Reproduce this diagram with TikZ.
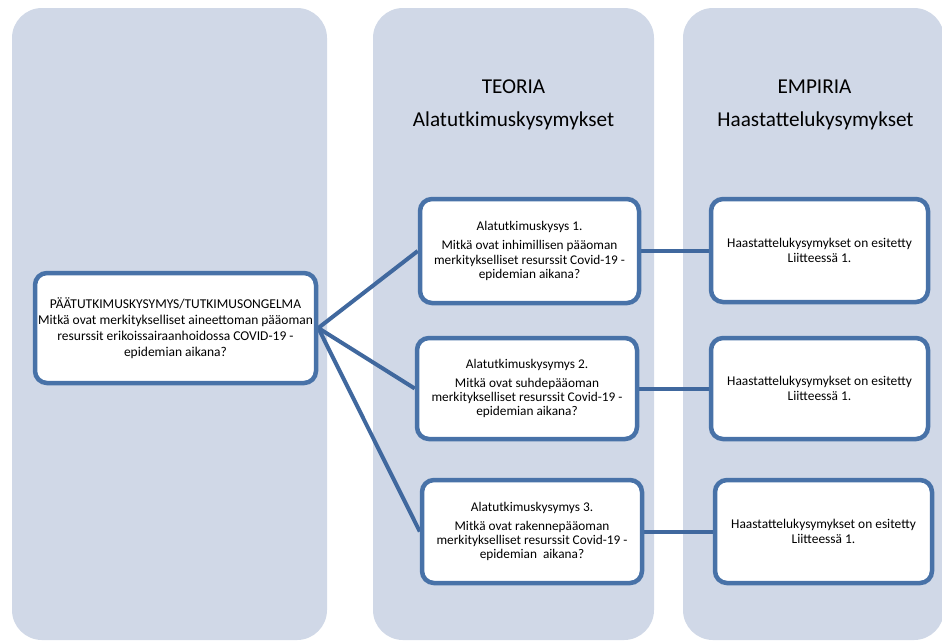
\documentclass[tikz,border=0pt]{standalone}
\usepackage{fontspec}
\setmainfont{Carlito}
\definecolor{panel}{RGB}{208,216,231}
\definecolor{frame}{RGB}{72,114,168}
\definecolor{link}{RGB}{64,104,158}
\pgfdeclarelayer{back}
\pgfdeclarelayer{mid}
\pgfsetlayers{back,mid,main}
\begin{document}
\begin{tikzpicture}[x=1pt,y=-1pt,
  panelbg/.style={fill=panel, rounded corners=30pt},
  heading/.style={anchor=base, font=\fontsize{21.2}{25}\selectfont},
  qbox/.style={draw=frame, line width=4.5pt, fill=white, rounded corners=12pt,
    align=center, inner sep=0pt, font=\fontsize{13.4}{15.5}\selectfont},
  mainbox/.style={qbox, font=\fontsize{13.5}{15.8}\selectfont},
  subbox/.style={qbox, font=\fontsize{13.3}{14.2}\selectfont},
  conn/.style={draw=link, line width=4pt}
]
\useasboundingbox (0,0) rectangle (942,641);

% column panels
\begin{pgfonlayer}{back}
  \fill[panelbg] (12,8) rectangle (327,640);
  \fill[panelbg] (373,8) rectangle (654,640);
  \fill[panelbg] (683,8) rectangle (944,640);
\end{pgfonlayer}

% column headings
\node[heading] (h1) at (513.5,93) {TEORIA};
\node[heading] (h2) at (513.5,126) {Alatutkimuskysymykset};
\node[heading] (h3) at (814.5,93) {EMPIRIA};
\node[heading] (h4) at (815.5,126) {Haastattelukysymykset};

% main research question
\node[mainbox, minimum width=281pt, minimum height=110pt] (main) at (175.5,328)
  {PÄÄTUTKIMUSKYSYMYS/TUTKIMUSONGELMA\\
   Mitkä ovat merkitykselliset aineettoman pääoman\\
   resurssit erikoissairaanhoidossa COVID-19 -\\
   epidemian aikana?};

% sub-questions (theory)
\node[subbox, minimum width=219pt, minimum height=104pt] (t1) at (529.5,251)
  {Alatutkimuskysys 1.\\[5pt]
   Mitkä ovat inhimillisen pääoman\\
   merkitykselliset resurssit Covid-19 -\\
   epidemian aikana?};
\node[subbox, minimum width=220pt, minimum height=101pt] (t2) at (527,388.5)
  {Alatutkimuskysymys 2.\\[5pt]
   Mitkä ovat suhdepääoman\\
   merkitykselliset resurssit Covid-19 -\\
   epidemian aikana?};
\node[subbox, minimum width=220pt, minimum height=103pt] (t3) at (532,531.5)
  {Alatutkimuskysymys 3.\\[5pt]
   Mitkä ovat rakennepääoman\\
   merkitykselliset resurssit Covid-19 -\\
   epidemian~ aikana?};

% interview questions (empirics)
\node[qbox, minimum width=217pt, minimum height=103pt] (e1) at (819.5,250.5)
  {Haastattelukysymykset on esitetty\\ Liitteessä 1.};
\node[qbox, minimum width=217pt, minimum height=101pt] (e2) at (819.5,388.5)
  {Haastattelukysymykset on esitetty\\ Liitteessä 1.};
\node[qbox, minimum width=217pt, minimum height=103pt] (e3) at (823.5,531.5)
  {Haastattelukysymykset on esitetty\\ Liitteessä 1.};

% connectors
\begin{pgfonlayer}{mid}
  \draw[conn] (main.east) -- (t1.west);
  \draw[conn] (main.east) -- (t2.west);
  \draw[conn] (main.east) -- (t3.west);
  \draw[conn] (t1.east) -- (t1.east -| e1.west);
  \draw[conn] (t2.east) -- (t2.east -| e2.west);
  \draw[conn] (t3.east) -- (t3.east -| e3.west);
\end{pgfonlayer}
\end{tikzpicture}
\end{document}
